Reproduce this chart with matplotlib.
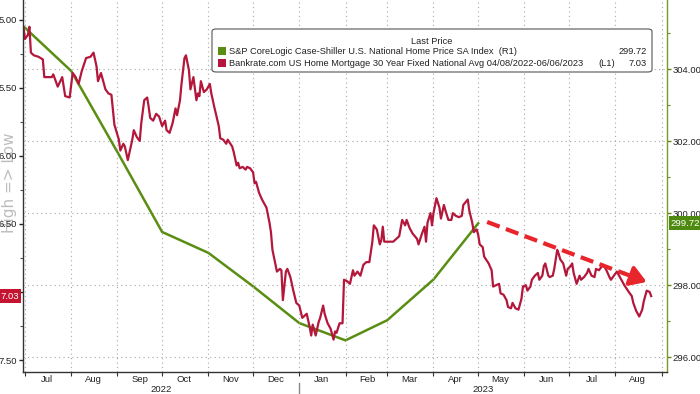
import matplotlib
matplotlib.use('Agg')
import matplotlib.pyplot as plt
import matplotlib.dates as mdates
import matplotlib.transforms as mtransforms
import pandas as pd
from matplotlib.patches import FancyBboxPatch, Rectangle
from matplotlib.ticker import MultipleLocator, FormatStrFormatter

plt.rcParams['font.family'] = ['Liberation Sans', 'DejaVu Sans']

# ---------------- data ----------------
hpi_dates = ['2022-07-01', '2022-08-01', '2022-09-01', '2022-10-01', '2022-11-01', '2022-12-01',
             '2023-01-01', '2023-02-01', '2023-03-01', '2023-04-01', '2023-05-01']
hpi_values = [305.15, 303.95, 301.7, 299.48, 298.9, 297.97, 296.95, 296.47, 297.03, 298.16, 299.72]

rate_start = '2022-07-01'
rate_day_offsets = [
    -1, 0, 2, 3, 4, 6, 9, 12, 13, 18, 19, 22, 25, 27, 30, 32, 34, 36, 38, 41,
    44, 46, 48, 49, 51, 54, 56, 58, 60, 63, 64, 66, 67, 69, 72, 73, 75, 77, 78, 80,
    82, 83, 84, 86, 88, 90, 92, 94, 95, 97, 99, 101, 102, 104, 105, 107, 108, 110, 111, 113,
    115, 116, 117, 118, 120, 122, 124, 125, 127, 130, 131, 133, 135, 136, 139, 140, 142, 143, 144, 146,
    148, 149, 151, 153, 154, 155, 157, 159, 160, 162, 164, 165, 166, 169, 171, 172, 173, 175, 176, 178,
    180, 182, 184, 186, 187, 188, 189, 191, 192, 193, 195, 197, 198, 200, 201, 203, 205, 207, 208, 209,
    211, 213, 214, 216, 218, 220, 221, 223, 225, 227, 229, 231, 233, 234, 236, 238, 239, 240, 241, 244,
    247, 249, 251, 252, 253, 255, 256, 258, 260, 263, 264, 266, 268, 269, 270, 272, 273, 274, 276, 278,
    279, 281, 282, 284, 286, 287, 289, 291, 293, 294, 297, 298, 300, 301, 303, 304, 305, 307, 308, 311,
    313, 314, 316, 318, 319, 321, 323, 324, 326, 327, 329, 331, 333, 334, 336, 337, 339, 340, 342, 344,
    345, 347, 348, 349, 351, 352, 354, 355, 357, 358, 359, 361, 363, 364, 366, 367, 368, 370, 372, 373,
    375, 377, 378, 380, 382, 383, 385, 387, 388, 390, 392, 393, 395, 397, 399, 400, 402, 405, 407, 408,
    410, 412, 414, 415, 417, 419, 420]
rate_values = [
    5.05, 5.14, 5.11, 5.05, 5.24, 5.26, 5.27, 5.29, 5.42, 5.42, 5.40, 5.49, 5.42, 5.56, 5.57, 5.39, 5.42, 5.47, 5.38, 5.28,
    5.27, 5.24, 5.34, 5.45, 5.39, 5.51, 5.54, 5.55, 5.77, 5.88, 5.96, 5.91, 5.93, 6.03, 5.88, 5.81, 5.86, 5.89, 5.76, 5.59,
    5.57, 5.64, 5.72, 5.74, 5.69, 5.71, 5.78, 5.74, 5.81, 5.83, 5.76, 5.65, 5.70, 5.59, 5.47, 5.28, 5.26, 5.37, 5.51, 5.42,
    5.59, 5.54, 5.56, 5.45, 5.53, 5.51, 5.47, 5.54, 5.64, 5.78, 5.87, 5.88, 5.91, 5.88, 5.93, 5.97, 6.07, 6.05, 6.09, 6.08,
    6.10, 6.08, 6.09, 6.12, 6.20, 6.19, 6.27, 6.32, 6.34, 6.38, 6.49, 6.56, 6.69, 6.85, 6.83, 6.84, 7.06, 6.85, 6.83, 6.89,
    6.99, 7.08, 7.10, 7.19, 7.18, 7.17, 7.16, 7.26, 7.32, 7.24, 7.32, 7.22, 7.19, 7.10, 7.16, 7.23, 7.27, 7.35, 7.29, 7.30,
    7.23, 7.23, 6.91, 6.92, 6.94, 6.84, 6.88, 6.85, 6.88, 6.80, 6.78, 6.78, 6.63, 6.51, 6.54, 6.65, 6.62, 6.52, 6.63, 6.63,
    6.63, 6.61, 6.59, 6.53, 6.47, 6.51, 6.47, 6.53, 6.57, 6.61, 6.65, 6.58, 6.52, 6.63, 6.49, 6.42, 6.51, 6.42, 6.31, 6.38,
    6.46, 6.36, 6.40, 6.47, 6.47, 6.42, 6.44, 6.45, 6.44, 6.36, 6.32, 6.40, 6.49, 6.56, 6.54, 6.58, 6.65, 6.67, 6.74, 6.79,
    6.84, 6.96, 6.95, 6.94, 7.01, 7.02, 7.06, 7.11, 7.12, 7.08, 7.12, 7.13, 7.05, 6.96, 6.95, 6.99, 6.96, 6.91, 6.88, 6.86,
    6.91, 6.88, 6.81, 6.79, 6.88, 6.89, 6.88, 6.83, 6.69, 6.72, 6.76, 6.79, 6.88, 6.83, 6.81, 6.79, 6.86, 6.94, 6.88, 6.91,
    6.89, 6.86, 6.83, 6.88, 6.89, 6.83, 6.84, 6.81, 6.80, 6.84, 6.89, 6.91, 6.88, 6.85, 6.89, 6.91, 6.95, 7.00, 7.03, 7.08,
    7.14, 7.18, 7.13, 7.07, 6.99, 7.00, 7.03]

left_ticks = [5.00, 5.50, 6.00, 6.50, 7.00, 7.50]
right_ticks = [296, 298, 300, 302, 304]

hpi_label = 'S&P CoreLogic Case-Shiller U.S. National Home Price SA Index  (R1)'
rate_label = 'Bankrate.com US Home Mortgage 30 Year Fixed National Avg 04/08/2022-06/06/2023'
rate_axis_tag = '(L1)'

trend_start = ('2023-05-07', 6.485)
trend_end = ('2023-08-22', 6.926)

# ---------------- style ----------------
RED = '#b3173b'
GREEN = '#5a8e12'
ARROW_RED = '#e8252b'
GRID = '#a8a8a8'

hpi_d = pd.to_datetime(hpi_dates)
rate_d = pd.Timestamp(rate_start) + pd.to_timedelta(rate_day_offsets, unit='D')

fig = plt.figure(figsize=(7.0, 3.94), dpi=100)
fig.patch.set_facecolor('white')

ax = fig.add_axes([22.7 / 700, 22.3 / 394, 644.0 / 700, 371.7 / 394])
ax2 = ax.twinx()
ax.set_zorder(ax2.get_zorder() + 1)
ax.patch.set_visible(False)
ax2.patch.set_facecolor('white')

x0 = pd.Timestamp('2022-06-29 12:00')
x1 = pd.Timestamp('2023-09-04 10:00')
ax.set_xlim(x0, x1)
ax.set_ylim(7.586, 4.853)
ax2.set_ylim(295.6, 305.92)

# High => Low (drawn first, behind tick labels)
fig.text(9.5 / 700, 1 - 183 / 394, 'High => Low', rotation=90, ha='center', va='center',
         fontsize=11, color='#bdbdbd', family='DejaVu Sans', zorder=0)

# lines
ax2.plot(hpi_d, hpi_values, color=GREEN, lw=1.8, solid_joinstyle='miter')
ax.plot(rate_d, rate_values, color=RED, lw=1.6, solid_joinstyle='round')

# x axis
ax.xaxis.set_major_locator(mdates.MonthLocator())
ax.xaxis.set_major_formatter(plt.NullFormatter())
ax.xaxis.set_minor_locator(mdates.MonthLocator(bymonthday=16))
ax.xaxis.set_minor_formatter(mdates.DateFormatter('%b'))
ax.tick_params(axis='x', which='major', length=3, width=0.8, color='#333333', direction='out')
ax.tick_params(axis='x', which='minor', length=0, pad=2.5, labelsize=6.8, labelcolor='#222222')
ax2.xaxis.set_visible(False)

# left axis
ax.yaxis.set_major_locator(plt.FixedLocator(left_ticks))
ax.yaxis.set_major_formatter(FormatStrFormatter('%.2f'))
ax.yaxis.set_minor_locator(MultipleLocator(0.25))
ax.tick_params(axis='y', which='major', length=3, width=1.0, color='#222222', pad=1, labelsize=6.8,
               labelcolor='#222222')
ax.tick_params(axis='y', which='minor', length=2, width=0.8, color='#555555')

# right axis
ax2.yaxis.set_major_locator(plt.FixedLocator(right_ticks))
ax2.yaxis.set_major_formatter(FormatStrFormatter('%.2f'))
ax2.yaxis.set_minor_locator(MultipleLocator(1))
ax2.tick_params(axis='y', which='major', length=3, width=1.0, color=GREEN, pad=1.5, labelsize=6.8,
                labelcolor='#222222')
ax2.tick_params(axis='y', which='minor', length=2, width=0.8, color=GREEN)

# grid
ax.grid(True, axis='x', which='major', color=GRID, lw=0.8, ls=(0, (1, 3)))
ax.grid(False, axis='y')
ax2.grid(True, axis='y', which='major', color=GRID, lw=0.8, ls=(0, (1, 3)))

# spines
for a in (ax, ax2):
    a.spines['top'].set_visible(False)
ax.spines['left'].set_color('#333333')
ax.spines['left'].set_linewidth(1.0)
ax.spines['bottom'].set_color('#333333')
ax.spines['bottom'].set_linewidth(1.0)
ax.spines['right'].set_visible(False)
ax2.spines['left'].set_visible(False)
ax2.spines['bottom'].set_visible(False)
ax2.spines['right'].set_color('#7a9a2a')
ax2.spines['right'].set_linewidth(1.0)

# year labels and separator
bt = mtransforms.blended_transform_factory(ax.transData, ax.transAxes)
jan1 = pd.Timestamp('2023-01-01')
ax.text(x0 + (jan1 - x0) / 2, -0.047, '2022', transform=bt, ha='center', va='center',
        fontsize=6.8, color='#222222', clip_on=False)
ax.text(jan1 + (x1 - jan1) / 2, -0.047, '2023', transform=bt, ha='center', va='center',
        fontsize=6.8, color='#222222', clip_on=False)
ax.plot([jan1, jan1], [-0.030, -0.062], transform=bt, color='#888888', lw=1.0, clip_on=False)

# trend arrow: dashed shaft + solid head
ts = (pd.Timestamp(trend_start[0]), trend_start[1])
te = (pd.Timestamp(trend_end[0]), trend_end[1])
frac = 0.86
head_from = (ts[0] + (te[0] - ts[0]) * frac, ts[1] + (te[1] - ts[1]) * frac)
ax.plot([ts[0], head_from[0]], [ts[1], head_from[1]], color=ARROW_RED, lw=3.0,
        ls=(0, (3.2, 1.6)), solid_capstyle='butt', zorder=6)
ax.annotate('', xy=te, xytext=head_from,
            arrowprops=dict(arrowstyle='-|>,head_length=0.95,head_width=0.6', lw=3.0,
                            color=ARROW_RED, shrinkA=0, shrinkB=0),
            zorder=6)

# last value tags
ax.annotate(f'{rate_values[-1]:.2f}', xy=(0, rate_values[-1]), xycoords=ax.get_yaxis_transform(),
            xytext=(-3, 0), textcoords='offset points', ha='right', va='center', fontsize=6.8,
            color='white', annotation_clip=False, zorder=10,
            bbox=dict(boxstyle='square,pad=0.25', fc='#c4142f', ec='none'))
ax2.annotate(f'{hpi_values[-1]:.2f}', xy=(1, hpi_values[-1]), xycoords=ax2.get_yaxis_transform(),
             xytext=(3, 0), textcoords='offset points', ha='left', va='center', fontsize=6.8,
             color='white', annotation_clip=False, zorder=10,
             bbox=dict(boxstyle='square,pad=0.25', fc='#4f8a10', ec='none'))

# legend (manual, Bloomberg style)
W, H = 700.0, 394.0
box = FancyBboxPatch((212 / W, 1 - 72 / H), 440 / W, 43 / H, transform=fig.transFigure,
                     boxstyle='round,pad=0,rounding_size=0.006', fc='white', ec='#555555', lw=0.8,
                     zorder=20)
fig.patches.append(box)
fig.text(432 / W, 1 - 41 / H, 'Last Price', ha='center', va='center', fontsize=6.7, color='#222222',
         zorder=21)
for yy, col, lab, val in [(51, GREEN, hpi_label, hpi_values[-1]), (63, RED, rate_label, rate_values[-1])]:
    fig.patches.append(Rectangle((218 / W, 1 - (yy + 4) / H), 8 / W, 8 / H, transform=fig.transFigure,
                                 fc=col, ec='none', zorder=21))
    fig.text(229 / W, 1 - yy / H, lab, ha='left', va='center', fontsize=6.7, color='#222222', zorder=21)
    fig.text(647 / W, 1 - yy / H, f'{val:.2f}', ha='right', va='center', fontsize=6.7, color='#222222',
             zorder=21)
fig.text(598 / W, 1 - 63 / H, rate_axis_tag, ha='left', va='center', fontsize=6.7, color='#222222', zorder=21)

fig.savefig('out.png', dpi=100, facecolor='white')
